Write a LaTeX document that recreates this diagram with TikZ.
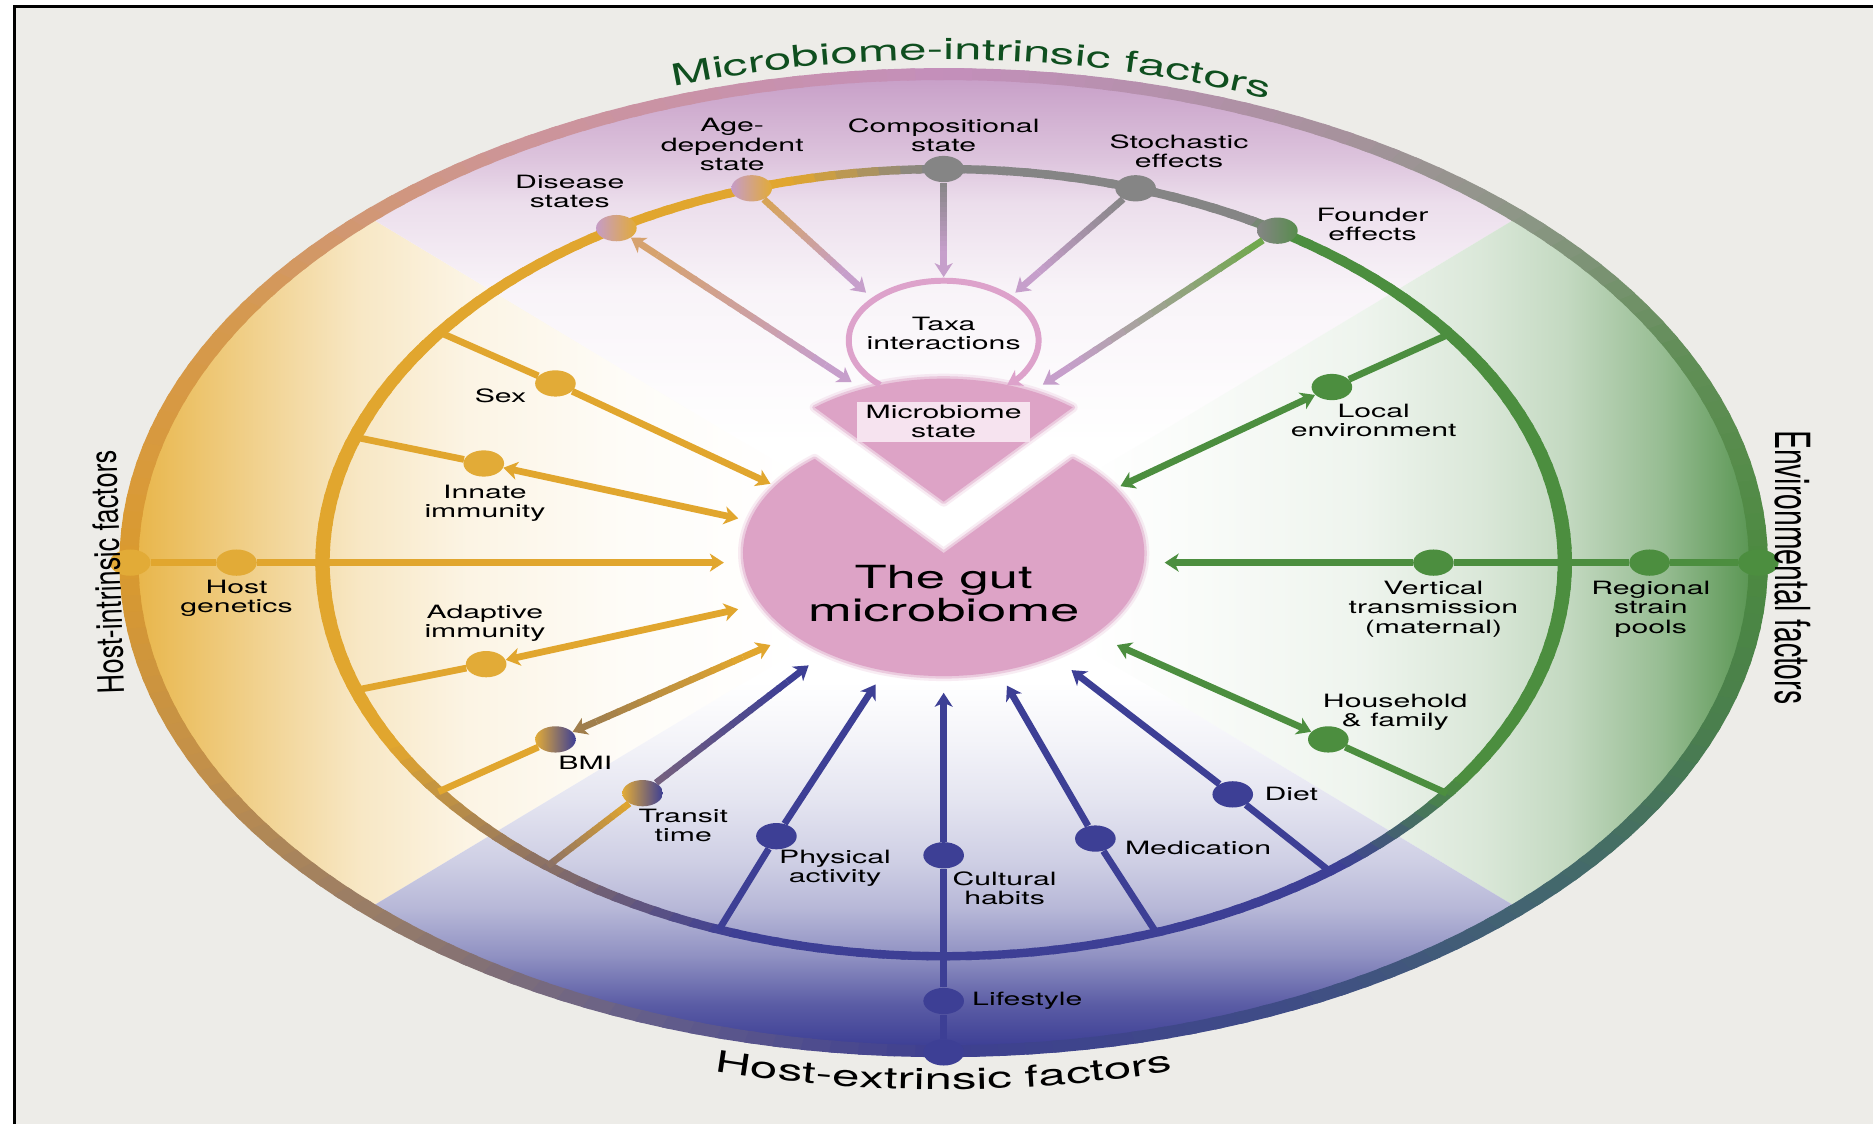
\documentclass[tikz,border=0pt]{standalone}
\usepackage{fontspec}
\usepackage{graphicx}
\setmainfont{TeX Gyre Heros}[FakeStretch=1.65]
\newfontfamily\sidefont{TeX Gyre Heros}
\usetikzlibrary{positioning,arrows.meta,shapes.geometric,calc,decorations.text}
\definecolor{bggray}{HTML}{EDECE8}
\definecolor{hostgold}{HTML}{E1A62E}
\definecolor{dotgold}{HTML}{E2AB37}
\definecolor{envgreen}{HTML}{4C8E3F}
\definecolor{extblue}{HTML}{3D3F95}
\definecolor{stategray}{HTML}{858585}
\definecolor{ringmauve}{HTML}{8A7066}
\definecolor{tramauve}{HTML}{76617E}
\definecolor{bmibrown}{HTML}{A07E4C}
\definecolor{arrowlilac}{HTML}{C69FCB}
\definecolor{dotlilac}{HTML}{C69CC6}
\definecolor{agegold}{HTML}{D8A452}
\definecolor{disgold}{HTML}{D6A26E}
\definecolor{foundgreen}{HTML}{6DA848}
\definecolor{piepink}{HTML}{DDA3C6}
\definecolor{taxapink}{HTML}{DDA2CB}
\definecolor{boxpink}{HTML}{F6E3EF}
\definecolor{titlegreen}{HTML}{0F4F1F}
\definecolor{fadegold}{HTML}{E8B548}
\definecolor{fadelilac}{HTML}{C8A0C8}
\definecolor{fadegreen}{HTML}{579450}
\definecolor{fadeblue}{HTML}{3D3F95}
% outer ring colours, by angle
\definecolor{ogreen}{HTML}{4C8A40}
\definecolor{osage}{HTML}{618E57}
\definecolor{ogray}{HTML}{8C9686}
\definecolor{omauve}{HTML}{A8929E}
\definecolor{olilac}{HTML}{C48FBB}
\definecolor{opink}{HTML}{CD9598}
\definecolor{oorange}{HTML}{D5994F}
\definecolor{ogold}{HTML}{DA9A2F}
\definecolor{otan}{HTML}{C2904A}
\definecolor{obrown}{HTML}{937A6A}
\definecolor{oplum}{HTML}{66608A}
\definecolor{oblue}{HTML}{3E3F90}
\definecolor{onavy}{HTML}{3F4C86}
\definecolor{oteal}{HTML}{43676E}
\definecolor{omoss}{HTML}{4A7E4E}

\pgfdeclarehorizontalshading{goldfade}{100bp}{color(0bp)=(fadegold); color(25bp)=(fadegold);
  color(36bp)=(fadegold!55!white); color(42bp)=(fadegold!32!white); color(50bp)=(fadegold!15!white);
  color(62bp)=(fadegold!4!white); color(75bp)=(white); color(100bp)=(white)}
\pgfdeclarehorizontalshading{greenfade}{100bp}{color(0bp)=(white); color(25bp)=(white);
  color(32bp)=(fadegreen!3!white); color(45.5bp)=(fadegreen!10!white); color(54.5bp)=(fadegreen!22!white);
  color(60.7bp)=(fadegreen!35!white); color(68bp)=(fadegreen!62!white); color(75bp)=(fadegreen); color(100bp)=(fadegreen)}
\pgfdeclareverticalshading{lilacfade}{100bp}{color(0bp)=(white); color(25bp)=(white);
  color(46bp)=(fadelilac!12!white); color(58bp)=(fadelilac!35!white); color(64bp)=(fadelilac!62!white);
  color(75bp)=(fadelilac); color(100bp)=(fadelilac)}
\pgfdeclareverticalshading{bluefade}{100bp}{color(0bp)=(fadeblue); color(25bp)=(fadeblue);
  color(30.7bp)=(fadeblue!85!white); color(37.5bp)=(fadeblue!57!white); color(44bp)=(fadeblue!37!white);
  color(50.4bp)=(fadeblue!25!white); color(58.6bp)=(fadeblue!14!white); color(66.8bp)=(fadeblue!6!white);
  color(75bp)=(white); color(100bp)=(white)}

\newcommand\lblfont{\fontsize{9.2}{9.6}\selectfont}
\newcommand\titlefont{\fontsize{15}{15}\selectfont}
\newcommand\gutfont{\fontsize{16}{16.6}\selectfont}

% ring as short coloured pieces: outer rx, outer ry, inner rx, inner ry, stops
\newcommand\ringbands[5]{%
  \foreach \a/\b/\ca/\cb in {#5}{%
    \pgfmathtruncatemacro\n{max(1,round((\b-\a)/2))}%
    \foreach \k in {1,...,\n}{%
      \pgfmathsetmacro\s{\a+(\k-1)*(\b-\a)/\n}%
      \pgfmathsetmacro\e{\a+\k*(\b-\a)/\n+0.6}%
      \pgfmathtruncatemacro\p{100-100*(\k-0.5)/\n}%
      \fill[fill=\ca!\p!\cb] (\s:#1 and #2) arc[start angle=\s, end angle=\e, x radius=#1, y radius=#2]
        -- (\e:#3 and #4) arc[start angle=\e, end angle=\s, x radius=#3, y radius=#4] -- cycle;
    }}}

% connector whose colour runs from #3 to #4, between fractions #5 and #6
\newcommand\fadeline[6]{%
  \path (#1) -- (#2) coordinate[pos=#5] (fl0) coordinate[pos=#6] (fl1);
  \foreach \k in {1,...,14}{%
    \pgfmathsetmacro\fa{(\k-1)/14}%
    \pgfmathsetmacro\fb{min(1,\k/14+0.012)}%
    \pgfmathtruncatemacro\p{100-100*(\k-0.5)/14}%
    \draw[conn, draw=#3!\p!#4] ($(fl0)!\fa!(fl1)$) -- ($(fl0)!\fb!(fl1)$);
  }}

\begin{document}
\begin{tikzpicture}[x=0.6pt, y=0.6pt,
    conn/.style={line width=3.4pt},
    arr/.style={-{Stealth[length=7pt, width=9pt, inset=2pt]}},
    arrs/.style={{Stealth[length=7pt, width=9pt, inset=2pt]}-{Stealth[length=7pt, width=9pt, inset=2pt]}},
    fdot/.style={ellipse, minimum width=20.4pt, minimum height=13.2pt, inner sep=0pt},
    lbl/.style={align=center, font=\lblfont, inner sep=0pt},
    pieshape/.style={insert path={(0,8) -- ++(50:168 and 103) arc[start angle=50, end angle=-230, x radius=168, y radius=103] -- cycle}},
    wedgeshape/.style={insert path={(0,51) -- ++(50:168 and 103) arc[start angle=50, end angle=130, x radius=168, y radius=103] -- cycle}}]
  \useasboundingbox (-790,-470) rectangle (778,471);
  \fill[white] (-790,-470) rectangle (778,471);
  \fill[bggray] (-778,-470) rectangle (778,465.5);
  \draw[black, line width=1.8pt] (-778,-470) -- (-778,465.5) -- (778,465.5);

  % four shaded sectors
  \begin{scope}
    \clip (0,0) ellipse [x radius=676, y radius=406];
    \fill[white] (-690,-415) rectangle (690,415);
    \begin{scope}
      \clip (0,0) -- (-690,415) -- (-690,-415) -- cycle;
      \shade[shading=goldfade] (-680,-420) rectangle (-120,420);
    \end{scope}
    \begin{scope}
      \clip (0,0) -- (-690,415) -- (690,415) -- cycle;
      \shade[shading=lilacfade] (-690,100) rectangle (690,405);
    \end{scope}
    \begin{scope}
      \clip (0,0) -- (690,415) -- (690,-415) -- cycle;
      \shade[shading=greenfade] (120,-420) rectangle (680,420);
    \end{scope}
    \begin{scope}
      \clip (0,0) -- (690,-415) -- (-690,-415) -- cycle;
      \shade[shading=bluefade] (-690,-405) rectangle (690,-100);
    \end{scope}
  \end{scope}

  % rings
  \ringbands{690}{414}{674}{404}{0/25/ogreen/osage, 25/45/osage/ogray, 45/62/ogray/omauve,
    62/90/omauve/olilac, 90/122/olilac/opink, 122/150/opink/oorange, 150/180/oorange/ogold,
    180/205/ogold/otan, 205/228/otan/obrown, 228/248/obrown/oplum, 248/270/oplum/oblue,
    270/295/oblue/onavy, 295/318/onavy/oteal, 318/340/oteal/omoss, 340/360/omoss/ogreen}
  \ringbands{526}{333}{514}{326}{0/56/envgreen/envgreen, 56/60/envgreen/stategray,
    60/92/stategray/stategray, 92/104/stategray/hostgold, 104/208/hostgold/hostgold,
    208/230/hostgold/ringmauve, 230/250/ringmauve/extblue, 250/310/extblue/extblue,
    310/326/extblue/envgreen, 326/360/envgreen/envgreen}

  % the gut microbiome pie and its lifted slice
  \foreach \w/\o in {5/0.2, 2.5/0.45}
    \draw[piepink, line width=\w pt, opacity=\o, line join=round] [pieshape] [wedgeshape];
  \fill[piepink] [pieshape] [wedgeshape];
  \node[lbl, fill=boxpink, minimum width=87pt, minimum height=20pt] (mstate) at (0,118) {Microbiome\\state};
  \coordinate (taxa) at (0,186);
  \draw[line width=3pt, taxapink, arr] (taxa) ++(228:79.5 and 50)
    arc[start angle=228, end angle=-48, x radius=79.5, y radius=50];

  % points on the inner ring and arrow tips
  \foreach \n/\t in {sexr/144.2, innr/161.4, adar/198.9, bmir/215.6, trar/230.4, phyr/248.8,
      medr/290, dietr/308.4, houser/324.1, localr/35.5}
    \coordinate (\n) at (\t:520 and 329.5);
  \foreach \n/\x/\y in {hgt/-184/0, sext/-145/66, innt/-172/37, adat/-172/-39, bmit/-145/-69,
      trat/-113/-86, phyt/-57/-102, cult/0/-109, medt/53/-103, dietgt/107/-90, houset/145/-69,
      vert/185/0, localt/148/64, foundt/83/149, stocht/60/226, compt/0/239, aget/-65/226, dist/-77/151}
    \coordinate (\n) at (\x,\y);

  % dots
  \node[fdot, fill=dotgold] (hgo) at (-681,0) {};
  \node[fdot, fill=dotgold] (hg) at (-592,0) {};
  \node[fdot, fill=dotgold] (sex) at (-325,150) {};
  \node[fdot, fill=dotgold] (inn) at (-385,83) {};
  \node[fdot, fill=dotgold] (ada) at (-383,-85) {};
  \node[fdot, left color=dotgold, right color=extblue] (bmi) at (-325,-148) {};
  \node[fdot, left color=dotgold, right color=extblue] (tra) at (-252,-193) {};
  \node[fdot, fill=extblue] (phy) at (-140,-229) {};
  \node[fdot, fill=extblue] (cul) at (0,-245) {};
  \node[fdot, fill=extblue] (ls) at (0,-367) {};
  \node[fdot, fill=extblue] (lso) at (0,-410) {};
  \node[fdot, fill=extblue] (med) at (127,-231) {};
  \node[fdot, fill=extblue] (diet) at (242,-194) {};
  \node[fdot, fill=envgreen] (house) at (322,-148) {};
  \node[fdot, fill=envgreen] (vtm) at (410,0) {};
  \node[fdot, fill=envgreen] (rsp) at (591,0) {};
  \node[fdot, fill=envgreen] (rspo) at (682,0) {};
  \node[fdot, fill=envgreen] (local) at (325,147) {};
  \node[fdot, left color=stategray, right color=envgreen!80!stategray] (found) at (57.5:520 and 329.5) {};
  \node[fdot, fill=stategray] (stoch) at (72:520 and 329.5) {};
  \node[fdot, fill=stategray] (comp) at (90:520 and 329.5) {};
  \node[fdot, left color=dotlilac, right color=dotgold] (age) at (108:520 and 329.5) {};
  \node[fdot, left color=dotlilac, right color=dotgold] (dis) at (121.8:520 and 329.5) {};

  % host-intrinsic
  \draw[conn, hostgold] (hgo) -- (hg);
  \draw[conn, hostgold, arr] (hg) -- (hgt);
  \foreach \a/\b in {sexr/sex, innr/inn, adar/ada, bmir/bmi} \draw[conn, hostgold] (\a) -- (\b);
  \draw[conn, hostgold, arr] (sex) -- (sext);
  \draw[conn, hostgold, arrs] (inn) -- (innt);
  \draw[conn, hostgold, arrs] (ada) -- (adat);
  \fadeline{bmi}{bmit}{bmibrown}{hostgold}{0.12}{0.86}
  \draw[conn, bmibrown, arr] (fl0) -- (bmi);
  \draw[conn, hostgold, arr] (fl1) -- (bmit);
  \fadeline{trar}{tra}{ringmauve}{hostgold}{0}{1}
  \fadeline{tra}{trat}{tramauve}{extblue}{0}{0.86}
  \draw[conn, extblue, arr] (fl1) -- (trat);

  % host-extrinsic
  \draw[conn, extblue] (phyr) -- (phy);
  \draw[conn, extblue, arr] (phy) -- (phyt);
  \draw[conn, extblue] (lso) -- (ls) -- (cul);
  \draw[conn, extblue, arr] (cul) -- (cult);
  \draw[conn, extblue] (medr) -- (med);
  \draw[conn, extblue, arr] (med) -- (medt);
  \draw[conn, extblue] (dietr) -- (diet);
  \draw[conn, extblue, arr] (diet) -- (dietgt);

  % environmental
  \draw[conn, envgreen] (houser) -- (house);
  \draw[conn, envgreen, arrs] (house) -- (houset);
  \draw[conn, envgreen] (rspo) -- (rsp) -- (vtm);
  \draw[conn, envgreen, arr] (vtm) -- (vert);
  \draw[conn, envgreen] (localr) -- (local);
  \draw[conn, envgreen, arrs] (local) -- (localt);

  % microbiome-intrinsic
  \fadeline{found}{foundt}{foundgreen}{arrowlilac}{0}{0.88}
  \draw[conn, arrowlilac, arr] (fl1) -- (foundt);
  \fadeline{stoch}{stocht}{stategray}{arrowlilac}{0}{0.78}
  \draw[conn, arrowlilac, arr] (fl1) -- (stocht);
  \fadeline{comp}{compt}{stategray}{arrowlilac}{0}{0.72}
  \draw[conn, arrowlilac, arr] (fl1) -- (compt);
  \fadeline{age}{aget}{agegold}{arrowlilac}{0}{0.78}
  \draw[conn, arrowlilac, arr] (fl1) -- (aget);
  \fadeline{dis}{dist}{disgold}{arrowlilac}{0.12}{0.88}
  \draw[conn, disgold, arr] (fl0) -- (dis);
  \draw[conn, arrowlilac, arr] (fl1) -- (dist);

  % labels
  \node[lbl] (hglbl) at (-592,-30) {Host\\genetics};
  \node[lbl] (sexlbl) at (-371,140) {Sex};
  \node[lbl] (innlbl) at (-384,50) {Innate\\immunity};
  \node[lbl] (adalbl) at (-384,-51) {Adaptive\\immunity};
  \node[lbl] (bmilbl) at (-300,-168) {BMI};
  \node[lbl] (tralbl) at (-218,-220) {Transit\\time};
  \node[lbl] (phylbl) at (-91,-256) {Physical\\activity};
  \node[lbl] (cullbl) at (51,-273) {Cultural\\habits};
  \node[lbl] (lslbl) at (70,-367) {Lifestyle};
  \node[lbl] (medlbl) at (213,-239) {Medication};
  \node[lbl] (dietlbl) at (291,-194) {Diet};
  \node[lbl] (houselbl) at (378,-125) {Household\\\& family};
  \node[lbl] (vtmlbl) at (410,-39) {Vertical\\transmission\\(maternal)};
  \node[lbl] (rsplbl) at (592,-39) {Regional\\strain\\pools};
  \node[lbl] (locallbl) at (360,119) {Local\\environment};
  \node[lbl] (foundlbl) at (359,283) {Founder\\effects};
  \node[lbl] (stochlbl) at (197,344) {Stochastic\\effects};
  \node[lbl] (complbl) at (0,358) {Compositional\\state};
  \node[lbl] (agelbl) at (-177,350) {Age-\\dependent\\state};
  \node[lbl] (dislbl) at (-313,311) {Disease\\states};
  \node[lbl] (taxalbl) at (0,192) {Taxa\\interactions};
  \node[align=center, font=\gutfont, inner sep=0pt] (gut) at (0,-26) {The gut\\microbiome};

  % group titles
  \path[decorate, decoration={text along path, text align=center, text color=titlegreen,
      text={|\titlefont|Microbiome-intrinsic factors}}]
    (128:700 and 421) arc[start angle=128, end angle=47.5, x radius=700, y radius=421];
  \path[decorate, decoration={text along path, text align=center,
      text={|\titlefont|Host-extrinsic factors}}]
    (232:733 and 441) arc[start angle=232, end angle=308, x radius=733, y radius=441];
  \node[rotate=91.9] (hostintr) at (-700,-8)
    {\sidefont\fontsize{13.5}{14}\selectfont\scalebox{1}[1.35]{Host-intrinsic factors}};
  \node[rotate=-90] (envir) at (711,-4)
    {\sidefont\fontsize{14.3}{15}\selectfont\scalebox{1}[1.7]{Environmental factors}};
\end{tikzpicture}
\end{document}
